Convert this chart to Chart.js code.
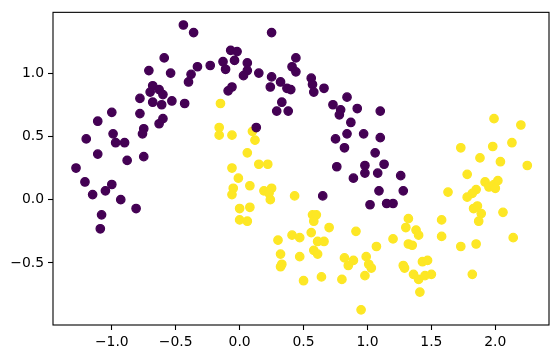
<!DOCTYPE html>
<html>
<head>
<meta charset="utf-8">
<script src="https://cdn.jsdelivr.net/npm/chart.js@4/dist/chart.umd.min.js"></script>
<style>
  html, body { margin: 0; padding: 0; background: #fff; }
  canvas { display: block; }
</style>
</head>
<body>
<canvas id="c" width="559" height="359"></canvas>
<script>
// Class 0 (purple) points
const purpleX = [-0.44,-0.36,-0.59,-0.71,-0.54,-0.33,-0.23,-0.38,-0.40,-0.68,-0.63,-0.70,-0.60,-0.78,-0.68,-0.61,-0.53,-0.43,-1.00,-1.11,-0.78,-0.60,-0.63,-0.75,-0.76,-0.99,-1.20,-0.97,-0.90,-1.11,-0.75,-0.88,-1.28,-1.21,-1.00,-1.05,-1.15,-0.93,-0.81,-1.08,-1.09,
  0.25,-0.07,-0.02,-0.04,-0.13,-0.11,0.06,0.06,0.03,0.15,0.44,0.41,0.44,0.25,0.32,0.24,0.37,0.40,0.56,0.57,0.58,0.66,-0.06,-0.09,0.33,0.29,0.38,0.13,
  0.84,0.73,0.79,0.78,0.92,1.10,0.87,0.84,0.97,0.75,1.10,0.82,1.06,0.76,0.98,0.98,1.08,1.13,0.89,0.65,1.02,1.09,1.26,1.28,1.15,1.20];
const purpleY = [1.38,1.32,1.12,1.02,1.00,1.05,1.06,0.99,0.93,0.90,0.87,0.85,0.83,0.80,0.77,0.75,0.78,0.76,0.69,0.62,0.68,0.64,0.60,0.56,0.52,0.52,0.48,0.45,0.45,0.36,0.34,0.31,0.25,0.14,0.12,0.07,0.04,0.00,-0.07,-0.12,-0.23,
  1.32,1.18,1.17,1.10,1.09,1.03,1.08,1.02,0.98,1.00,1.12,1.05,1.01,0.97,0.93,0.89,0.88,0.87,0.96,0.91,0.85,0.88,0.89,0.86,0.77,0.70,0.70,0.57,
  0.81,0.75,0.71,0.67,0.72,0.70,0.61,0.52,0.52,0.48,0.49,0.41,0.37,0.26,0.27,0.21,0.21,0.28,0.17,0.03,-0.04,0.07,0.19,0.07,-0.03,-0.03];

// Class 1 (yellow) points
const yellowX = [-0.15,-0.16,-0.16,-0.06,0.10,0.12,0.06,0.15,0.22,-0.06,
  -0.01,-0.05,-0.06,0.08,0.19,0.25,0.23,0.24,0.43,0.00,0.08,0.00,0.06,
  0.57,0.60,0.58,0.70,0.41,0.47,0.56,0.30,0.61,0.66,0.91,0.58,0.61,0.32,0.47,0.33,0.32,0.82,0.89,0.85,0.99,1.01,1.03,0.98,1.07,0.64,0.50,0.80,0.95,
  1.99,2.20,1.73,1.98,2.13,1.88,2.04,2.25,1.78,1.92,1.95,1.99,2.02,2.00,1.85,1.82,1.78,1.63,1.86,1.83,1.89,1.87,2.06,1.58,1.58,1.32,1.30,1.38,1.40,1.20,1.32,1.35,1.73,1.85,2.14,1.43,1.47,1.28,1.29,1.36,1.40,1.45,1.50,1.82,1.41];
const yellowY = [0.76,0.57,0.51,0.51,0.54,0.47,0.37,0.28,0.28,0.25,
  0.17,0.09,0.04,0.11,0.07,0.09,0.05,0.00,0.03,-0.07,-0.06,-0.16,-0.17,
  -0.12,-0.12,-0.17,-0.22,-0.28,-0.30,-0.26,-0.32,-0.33,-0.33,-0.25,-0.40,-0.43,-0.43,-0.45,-0.51,-0.53,-0.46,-0.48,-0.52,-0.45,-0.51,-0.54,-0.60,-0.37,-0.61,-0.64,-0.63,-0.87,
  0.64,0.59,0.41,0.42,0.45,0.33,0.30,0.27,0.20,0.14,0.10,0.12,0.15,0.09,0.08,0.05,0.02,0.06,-0.05,-0.07,-0.11,-0.17,-0.10,-0.16,-0.29,-0.15,-0.22,-0.24,-0.28,-0.31,-0.35,-0.36,-0.37,-0.35,-0.30,-0.49,-0.48,-0.52,-0.54,-0.59,-0.63,-0.60,-0.59,-0.59,-0.73];

const xTicks = [-1.0, -0.5, 0.0, 0.5, 1.0, 1.5, 2.0];
const yTicks = [-0.5, 0.0, 0.5, 1.0];
const xRange = [-1.46, 2.42];
const yRange = [-0.99, 1.48];

const PURPLE = '#440154';
const YELLOW = '#fde725';

const toPts = (xs, ys) => xs.map((x, i) => ({ x: x, y: ys[i] }));
const fmt = v => v.toFixed(1).replace('-', '\u2212');
const FONT = { family: 'DejaVu Sans', size: 13.9 };

const frame = {
  id: 'frame',
  afterDraw(chart) {
    const a = chart.chartArea, ctx = chart.ctx;
    ctx.save();
    ctx.strokeStyle = '#000';
    ctx.lineWidth = 1.1;
    ctx.strokeRect(a.left, a.top, a.right - a.left, a.bottom - a.top);
    ctx.restore();
  }
};

new Chart(document.getElementById('c'), {
  type: 'scatter',
  data: {
    datasets: [
      { data: toPts(purpleX, purpleY), backgroundColor: PURPLE, borderColor: PURPLE, pointRadius: 4.2, pointBorderWidth: 1.3, pointHoverRadius: 4.2 },
      { data: toPts(yellowX, yellowY), backgroundColor: YELLOW, borderColor: YELLOW, pointRadius: 4.2, pointBorderWidth: 1.3, pointHoverRadius: 4.2 }
    ]
  },
  options: {
    responsive: false,
    devicePixelRatio: 1,
    animation: false,
    layout: { padding: { top: 11, right: 10, left: 0, bottom: 0 } },
    plugins: { legend: { display: false }, tooltip: { enabled: false } },
    scales: {
      x: {
        type: 'linear', min: xRange[0], max: xRange[1],
        afterBuildTicks: s => { s.ticks = xTicks.map(v => ({ value: v })); },
        afterFit: s => { s.height = 34; },
        ticks: { callback: v => fmt(v), font: FONT, color: '#000', padding: 4, maxRotation: 0, autoSkip: false },
        grid: { display: true, drawOnChartArea: false, drawTicks: true, tickLength: 5, tickColor: '#000', tickWidth: 1.1 },
        border: { display: false }
      },
      y: {
        type: 'linear', min: yRange[0], max: yRange[1],
        afterBuildTicks: s => { s.ticks = yTicks.map(v => ({ value: v })); },
        afterFit: s => { s.width = 53; },
        ticks: { callback: v => fmt(v), font: FONT, color: '#000', padding: 4, autoSkip: false },
        grid: { display: true, drawOnChartArea: false, drawTicks: true, tickLength: 5, tickColor: '#000', tickWidth: 1.1 },
        border: { display: false }
      }
    }
  },
  plugins: [frame]
});
</script>
</body>
</html>
